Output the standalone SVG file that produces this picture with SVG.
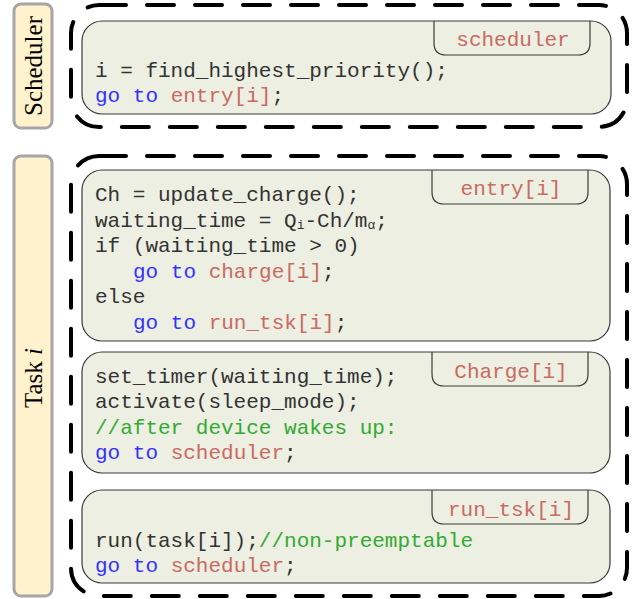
<svg xmlns="http://www.w3.org/2000/svg" width="641" height="599" viewBox="0 0 641 599">
<style>
.lbl{fill:#FFF2CC;stroke:#A6A6A6;stroke-width:3}
.lt{font-family:"Liberation Serif","Times New Roman",serif;font-size:25px;fill:#000;text-anchor:middle}
.dash{fill:none;stroke:#000;stroke-width:4;stroke-dasharray:27 21;stroke-linecap:round}
.box{fill:#ECEFE1;stroke:#3A3A3A;stroke-width:1.2}
.tab{fill:none;stroke:#3A3A3A;stroke-width:1.2}
.code{font-family:"Liberation Mono","Courier New",monospace;font-size:21px;fill:#333333;white-space:pre}
.tt{font-family:"Liberation Mono","Courier New",monospace;font-size:21px;fill:#C96A63;text-anchor:middle}
.k{fill:#3333FF}
.r{fill:#C96A63}
.g{fill:#33AA33}
.sub{font-size:13px}
</style>
<g id="scheduler-label">
<rect class="lbl" x="14" y="4" width="38" height="124" rx="7"/>
<text class="lt" transform="translate(42,66) rotate(-90)">Scheduler</text>
</g>
<g id="task-label">
<rect class="lbl" x="14" y="156" width="38" height="440" rx="7"/>
<text class="lt" transform="translate(42,378) rotate(-90)">Task <tspan font-style="italic">i</tspan></text>
</g>
<g id="scheduler-group">
<rect class="dash" x="71" y="5" width="556" height="122" rx="28"/>
</g>
<g id="task-group">
<rect class="dash" x="71" y="156" width="556" height="440" rx="28"/>
</g>
<g id="scheduler">
<rect class="box" x="82" y="21" width="529" height="93" rx="20"/>
<path class="tab" d="M434,21 V43 Q434,55 446,55 H578 Q590,55 590,43 V21"/>
<text class="tt" x="513" y="46">scheduler</text>
<text class="code" x="95" y="77">i = find_highest_priority();</text>
<text class="code" x="95" y="102"><tspan class="k">go to</tspan> <tspan class="r">entry[i]</tspan>;</text>
</g>
<g id="entry">
<rect class="box" x="82" y="170" width="528" height="171" rx="20"/>
<path class="tab" d="M432,170 V192 Q432,204 444,204 H576 Q588,204 588,192 V170"/>
<text class="tt" x="511" y="195">entry[i]</text>
<text class="code" x="95" y="201">Ch = update_charge();</text>
<text class="code" x="95" y="227">waiting_time = Q<tspan class="sub" dy="2">i</tspan><tspan dy="-2">-Ch/m</tspan><tspan class="sub" dy="2">α</tspan><tspan dy="-2">;</tspan></text>
<text class="code" x="95" y="252">if (waiting_time &gt; 0)</text>
<text class="code" x="133" y="278"><tspan class="k">go to</tspan> <tspan class="r">charge[i]</tspan>;</text>
<text class="code" x="95" y="303">else</text>
<text class="code" x="133" y="329"><tspan class="k">go to</tspan> <tspan class="r">run_tsk[i]</tspan>;</text>
</g>
<g id="charge">
<rect class="box" x="82" y="352" width="528" height="121" rx="20"/>
<path class="tab" d="M432,352 V374 Q432,386 444,386 H576 Q588,386 588,374 V352"/>
<text class="tt" x="511" y="378">Charge[i]</text>
<text class="code" x="95" y="383">set_timer(waiting_time);</text>
<text class="code" x="95" y="408">activate(sleep_mode);</text>
<text class="code g" x="95" y="434">//after device wakes up:</text>
<text class="code" x="95" y="459"><tspan class="k">go to</tspan> <tspan class="r">scheduler</tspan>;</text>
</g>
<g id="run_tsk">
<rect class="box" x="82" y="490" width="528" height="93" rx="20"/>
<path class="tab" d="M432,490 V512 Q432,524 444,524 H576 Q588,524 588,512 V490"/>
<text class="tt" x="511" y="516">run_tsk[i]</text>
<text class="code" x="95" y="547">run(task[i]);<tspan class="g">//non-preemptable</tspan></text>
<text class="code" x="95" y="572"><tspan class="k">go to</tspan> <tspan class="r">scheduler</tspan>;</text>
</g>
<g id="connectors"/>
</svg>
